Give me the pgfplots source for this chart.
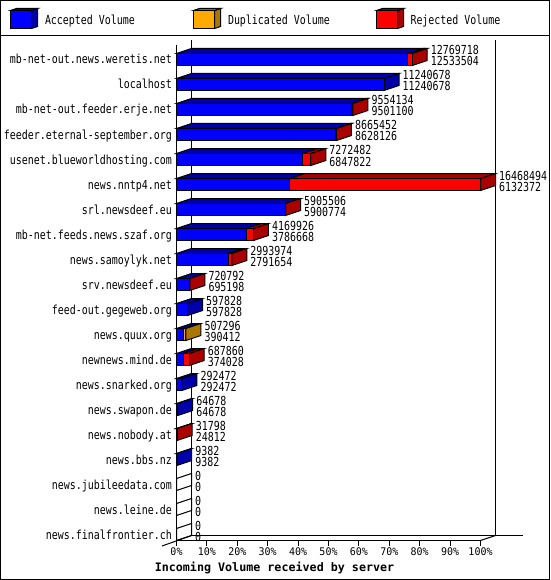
\documentclass[border=0pt]{standalone}
\usepackage{pgfplots}
\pgfplotsset{compat=1.18}
\usepackage{pgfplotstable}
\usepackage{fontspec}
\setmainfont{DejaVu Sans Mono}
\newfontfamily\bitfont[FakeStretch=0.8]{DejaVu Sans Mono}
\newfontfamily\tickbit[FakeStretch=0.95]{DejaVu Sans Mono}
\newfontfamily\boldbit{DejaVu Sans Mono Bold}
\newcommand\lab{\bitfont\fontsize{12.45}{13}\selectfont}
\newcommand\ticklab{\tickbit\fontsize{10.5}{13}\selectfont}
\definecolor{acc}{HTML}{0000FF}
\definecolor{accd}{HTML}{0000AA}
\definecolor{dupc}{HTML}{FFAA00}
\definecolor{dupd}{HTML}{AA7700}
\definecolor{rejc}{HTML}{FF0000}
\definecolor{rejd}{HTML}{AA0000}

% row: 20 is the top one; volumes in bytes
\pgfplotstableread{
row acc dup rej
20 12533504 0 236214
19 11240678 0 0
18 9501100 0 53034
17 8628126 0 37326
16 6847822 0 424660
15 6132372 0 10336122
14 5900774 0 4732
13 3786668 0 383258
12 2791654 0 202320
11 695198 0 25594
10 597828 0 0
9 390412 116884 0
8 374028 0 313832
7 292472 0 0
6 64678 0 0
5 24812 0 6986
4 9382 0 0
3 0 0 0
2 0 0 0
1 0 0 0
}\vol

% 15px deep, 5px up
\def\dx{812600}
\def\hh{0.24}
\def\dy{0.2}

\pgfplotsset{base/.style={
  at={(176.5pt,-540.5pt)},anchor=south west,
  scale only axis,width=304pt,height=495pt,
  xmin=0,xmax=16468494,ymin=0.76,ymax=20.56,
  scaled x ticks=false,
  clip=false,
}}
\tikzset{txt/.style={inner sep=0pt,font=\lab,text height=9pt,text depth=0pt}}

% top face of one stack segment
\newcommand\topface[4]{%
  \ifnum#2>#1\relax
  \edef\tmp{\noexpand\addplot[fill=#4,draw=black,line width=1pt] coordinates {
    (#1,\fpeval{#3+\hh})(#2,\fpeval{#3+\hh})
    (\fpeval{#2+\dx},\fpeval{#3+\hh+\dy})(\fpeval{#1+\dx},\fpeval{#3+\hh+\dy})} --cycle;}\tmp
  \fi}

\begin{document}
\begin{tikzpicture}[x=1pt,y=1pt,line width=1pt]
\useasboundingbox (0,0) rectangle (550,-580);
\fill[white] (0,0) rectangle (550,-580);
\draw (0.5,-0.5) rectangle (549.5,-579.5);
\draw (0,-35.5) -- (550,-35.5);

% legend
\foreach \xx/\fc/\sc/\txt/\tx in {10.5/acc/accd/Accepted Volume/44.5,193.5/dupc/dupd/Duplicated Volume/227.5,376.5/rejc/rejd/Rejected Volume/410}{
  \draw[fill=\sc] (\xx+21,-10.5) -- (\xx+27,-8.5) -- (\xx+27,-26.5) -- (\xx+21,-28.5) -- cycle;
  \draw[fill=\sc] (\xx,-10.5) -- (\xx+6,-8.5) -- (\xx+27,-8.5) -- (\xx+21,-10.5) -- cycle;
  \draw[fill=\fc] (\xx,-10.5) rectangle (\xx+21,-28.5);
  \node[txt,anchor=west] at (\tx,-20.5) {\txt};
}

% back walls and floor
\draw (191.5,-40.5) -- (191.5,-535.5);
\draw (495.5,-40.5) -- (495.5,-535.5);
\draw (191.5,-535.5) -- (522.5,-535.5);
\draw (162,-546) -- (191.5,-535.5);
\draw (480.5,-540.5) -- (495.5,-535.5);

\begin{axis}[base,
  axis x line*=bottom,axis y line*=left,axis line style={-,line width=1pt},
  xtick={0,1646849.4,3293698.8,4940548.2,6587397.6,8234247,9881096.4,11527945.8,13174795.2,14821644.6,16468494},
  xticklabels={0\%,10\%,20\%,30\%,40\%,50\%,60\%,70\%,80\%,90\%,100\%},
  xtick align=outside,
  x tick style={black,line width=1pt},
  major tick length=5pt,
  xticklabel style={font=\ticklab,inner sep=0pt,anchor=center,yshift=-6.5pt},
  ytick={1,...,20},
  yticklabels={news.finalfrontier.ch,news.leine.de,news.jubileedata.com,news.bbs.nz,news.nobody.at,news.swapon.de,news.snarked.org,newnews.mind.de,news.quux.org,feed-out.gegeweb.org,srv.newsdeef.eu,news.samoylyk.net,mb-net.feeds.news.szaf.org,srl.newsdeef.eu,news.nntp4.net,usenet.blueworldhosting.com,feeder.eternal-september.org,mb-net-out.feeder.erje.net,localhost,mb-net-out.news.weretis.net},
  y tick style={draw=none},
  yticklabel style={txt,anchor=east,xshift=-4.5pt},
]
\pgfplotstablegetrowsof{\vol}
\pgfmathtruncatemacro\last{\pgfplotsretval-1}
\pgfplotsforeachungrouped \i in {0,...,\last}{
  \pgfplotstablegetelem{\i}{row}\of\vol \let\rw\pgfplotsretval
  \pgfplotstablegetelem{\i}{acc}\of\vol \let\va\pgfplotsretval
  \pgfplotstablegetelem{\i}{dup}\of\vol \let\vd\pgfplotsretval
  \pgfplotstablegetelem{\i}{rej}\of\vol \let\vr\pgfplotsretval
  \edef\sa{\fpeval{\va+\vd}}
  \edef\st{\fpeval{\va+\vd+\vr}}
  \topface{0}{\va}{\rw}{accd}
  \topface{\va}{\sa}{\rw}{dupd}
  \topface{\sa}{\st}{\rw}{rejd}
  % side face takes the colour of the last segment
  \ifnum\vr>0 \def\sc{rejd}\else\ifnum\vd>0 \def\sc{dupd}\else\ifnum\va>0 \def\sc{accd}\else\def\sc{none}\fi\fi\fi
  \edef\tmp{\noexpand\addplot[fill=\sc,draw=black,line width=1pt] coordinates {
    (\st,\fpeval{\rw-\hh})(\st,\fpeval{\rw+\hh})
    (\fpeval{\st+\dx},\fpeval{\rw+\hh+\dy})(\fpeval{\st+\dx},\fpeval{\rw-\hh+\dy})} --cycle;
    \noexpand\node[txt,anchor=west] at (axis cs:\fpeval{\st+\dx},\fpeval{\rw+0.36}) [xshift=3.5pt] {\st};
    \noexpand\node[txt,anchor=west] at (axis cs:\fpeval{\st+\dx},\fpeval{\rw-0.08}) [xshift=3.5pt] {\va};}\tmp
}
\end{axis}

\begin{axis}[base,hide axis,
  xbar stacked,bar width=12pt,bar shift=0pt,
  every axis plot/.append style={draw=black,line width=1pt},
]
\addplot[fill=acc] table[x=acc,y=row] {\vol};
\addplot[fill=dupc] table[x=dup,y=row] {\vol};
\addplot[fill=rejc] table[x=rej,y=row] {\vol};
\end{axis}

\node[font=\boldbit\fontsize{11.7}{13}\selectfont,inner sep=0pt] at (274.5,-567.5) {Incoming Volume received by server};
\end{tikzpicture}
\end{document}
